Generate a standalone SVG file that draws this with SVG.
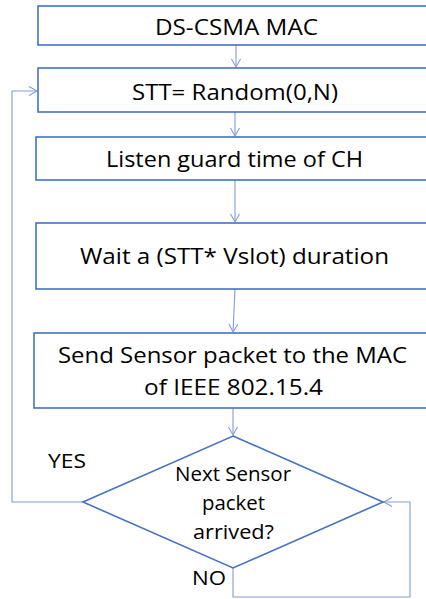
<svg xmlns="http://www.w3.org/2000/svg" width="426" height="599" viewBox="0 0 426 599">
  <style>
    .box { fill: #ffffff; stroke: #4472C4; stroke-width: 1.6; }
    .conn { fill: none; stroke: #7F9FD6; stroke-width: 1.1; }
    .lbl { font-family: "Open Sans", "Liberation Sans", sans-serif; fill: #000000; text-anchor: middle; }
    .big { font-size: 22px; }
    .small { font-size: 20px; }
  </style>
  <defs>
    <marker id="arrow" markerUnits="userSpaceOnUse" markerWidth="12" markerHeight="12" refX="9" refY="5" orient="auto">
      <path d="M1,0.5 L9,5 L1,9.5" fill="none" stroke="#7F9FD6" stroke-width="1.1"/>
    </marker>
  </defs>
  <rect width="426" height="599" fill="#ffffff"/>

  <g id="connectors">
    <line class="conn" x1="236" y1="45" x2="236" y2="67" marker-end="url(#arrow)"/>
    <line class="conn" x1="235" y1="112" x2="235" y2="136" marker-end="url(#arrow)"/>
    <line class="conn" x1="235" y1="180" x2="235" y2="222" marker-end="url(#arrow)"/>
    <line class="conn" x1="235" y1="289" x2="233" y2="332" marker-end="url(#arrow)"/>
    <line class="conn" x1="233" y1="408" x2="233" y2="435" marker-end="url(#arrow)"/>
    <polyline class="conn" points="83,502 12,502 12,91 37,91" marker-end="url(#arrow)"/>
    <polyline class="conn" points="233,568 233,597 410,597 410,502 384,502" marker-end="url(#arrow)"/>
  </g>

  <g id="start">
    <rect class="box" x="38" y="6" width="400" height="39"/>
    <text class="lbl big" x="236.5" y="35" textLength="163" lengthAdjust="spacingAndGlyphs">DS-CSMA MAC</text>
  </g>
  <g id="random">
    <rect class="box" x="38" y="68" width="400" height="44"/>
    <text class="lbl big" x="235" y="100" textLength="206" lengthAdjust="spacingAndGlyphs">STT= Random(0,N)</text>
  </g>
  <g id="listen">
    <rect class="box" x="36" y="137" width="402" height="43"/>
    <text class="lbl big" x="234.5" y="167" textLength="257" lengthAdjust="spacingAndGlyphs">Listen guard time of CH</text>
  </g>
  <g id="wait">
    <rect class="box" x="36" y="223" width="402" height="66"/>
    <text class="lbl big" x="234.5" y="264" textLength="309" lengthAdjust="spacingAndGlyphs">Wait a (STT* Vslot) duration</text>
  </g>
  <g id="send">
    <rect class="box" x="34" y="333" width="404" height="75"/>
    <text class="lbl big" x="232.5" y="363" textLength="349" lengthAdjust="spacingAndGlyphs">Send Sensor packet to the MAC</text>
    <text class="lbl big" x="233.5" y="395" textLength="179" lengthAdjust="spacingAndGlyphs">of IEEE 802.15.4</text>
  </g>
  <g id="decision">
    <polygon class="box" points="233,436 383,502 233,568 83,502"/>
    <text class="lbl small" x="233" y="481" textLength="116" lengthAdjust="spacingAndGlyphs">Next Sensor</text>
    <text class="lbl small" x="233.5" y="510" textLength="63" lengthAdjust="spacingAndGlyphs">packet</text>
    <text class="lbl small" x="233.5" y="539" textLength="81" lengthAdjust="spacingAndGlyphs">arrived?</text>
  </g>
  <g id="labels">
    <text class="lbl small" x="67" y="468" textLength="38" lengthAdjust="spacingAndGlyphs">YES</text>
    <text class="lbl small" x="209" y="585" textLength="34" lengthAdjust="spacingAndGlyphs">NO</text>
  </g>
</svg>
